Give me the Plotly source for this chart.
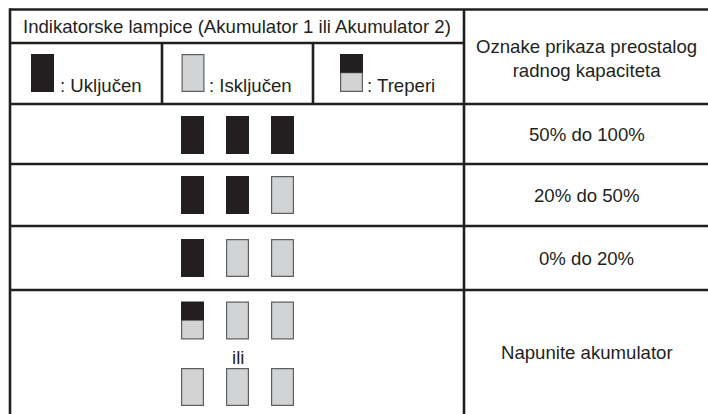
import plotly.graph_objects as go

# ---- content ----
header_title = "Indikatorske lampice (Akumulator 1 ili Akumulator 2)"
legend_labels = [": Uključen", ": Isključen", ": Treperi"]
legend_states = ["on", "off", "blink"]
capacity_header = "Oznake prikaza preostalog<br>radnog kapaciteta"
capacity_labels = ["50% do 100%", "20% do 50%", "0% do 20%", "Napunite akumulator"]
lamp_rows = [
    [["on", "on", "on"]],
    [["on", "on", "off"]],
    [["on", "off", "off"]],
    [["blink", "off", "off"], ["off", "off", "off"]],
]
alt_word = "ili"

# ---- geometry / style ----
W, H = 708, 414
X_L, X_DIV, X_R = 10, 464, 730
Y_TOP, Y_H1, Y_H2 = 9.5, 43, 104
ROW_BOUNDS = [104, 164, 226, 290, 430]
LEG_DIVS = [162, 313]
LEG_ICON_X = [31, 181.5, 340]
LEG_TEXT_X = [58, 207, 365]
LAMP_W, LAMP_H = 23, 38
LAMP_CX = [192.5, 237.5, 282.5]
ROW_LAMP_CY = [[135], [195], [258], [320.5, 387]]
ALT_Y = 357
LINE_C = "#231f20"
LINE_W = 2.6
DARK = "#231f20"
GREY = "#d1d3d4"
GREY_LINE = "#5f6062"
FONT = "Liberation Sans, Arial, sans-serif"
FS = 18.6

shapes = []


def line(x0, y0, x1, y1):
    shapes.append(dict(type="line", xref="x", yref="y", x0=x0, y0=y0, x1=x1, y1=y1,
                       line=dict(color=LINE_C, width=LINE_W), layer="above"))


def lamp(x0, y0, state):
    x1, y1 = x0 + LAMP_W, y0 + LAMP_H
    if state == "on":
        shapes.append(dict(type="rect", xref="x", yref="y", x0=x0, y0=y0, x1=x1, y1=y1,
                           fillcolor=DARK, line=dict(width=0)))
    elif state == "off":
        shapes.append(dict(type="rect", xref="x", yref="y", x0=x0 + 0.6, y0=y0 + 0.6,
                           x1=x1 - 0.6, y1=y1 - 0.6,
                           fillcolor=GREY, line=dict(color=GREY_LINE, width=1.2)))
    else:  # blink
        ym = y0 + LAMP_H * 0.49
        shapes.append(dict(type="rect", xref="x", yref="y", x0=x0 + 0.6, y0=ym,
                           x1=x1 - 0.6, y1=y1 - 0.6,
                           fillcolor=GREY, line=dict(color=GREY_LINE, width=1.2)))
        shapes.append(dict(type="rect", xref="x", yref="y", x0=x0, y0=y0, x1=x1, y1=ym,
                           fillcolor=DARK, line=dict(width=0)))


# table grid
line(X_L, Y_TOP, X_R, Y_TOP)
line(X_L, Y_TOP - 1.2, X_L, H + 20)
line(X_DIV, Y_TOP, X_DIV, H + 20)
line(X_L, Y_H1, X_DIV, Y_H1)
for xd in LEG_DIVS:
    line(xd, Y_H1, xd, Y_H2)
for yb in ROW_BOUNDS[:-1]:
    line(X_L, yb, X_R, yb)

annotations = []


def text(x, y, s, xanchor="center", size=FS):
    annotations.append(dict(x=x, y=y, xref="x", yref="y", text=s, showarrow=False,
                            xanchor=xanchor, yanchor="middle",
                            font=dict(family=FONT, size=size, color=DARK)))


# header
text((X_L + X_DIV) / 2, 26.5, header_title)
text((X_DIV + W) / 2 + 0.5, 58, capacity_header)

# legend row
for ix, st, lab, tx in zip(LEG_ICON_X, legend_states, legend_labels, LEG_TEXT_X):
    lamp(ix, 54, st)
    annotations.append(dict(x=tx, y=97.5, xref="x", yref="y", text=lab, showarrow=False,
                            xanchor="left", yanchor="bottom",
                            font=dict(family=FONT, size=FS, color=DARK)))

# body rows
for r, (states_list, cys) in enumerate(zip(lamp_rows, ROW_LAMP_CY)):
    for states, cy in zip(states_list, cys):
        for cx, st in zip(LAMP_CX, states):
            lamp(cx - LAMP_W / 2, cy - LAMP_H / 2, st)
    ymid = (ROW_BOUNDS[r] + min(ROW_BOUNDS[r + 1], H)) / 2
    text((X_DIV + W) / 2 + 0.5, ymid, capacity_labels[r])

text(LAMP_CX[1], ALT_Y, alt_word)

fig = go.Figure()
fig.add_trace(go.Scatter(x=[0], y=[0], mode="markers", marker=dict(opacity=0),
                         hoverinfo="skip", showlegend=False))
fig.update_layout(
    width=W, height=H,
    margin=dict(l=0, r=0, t=0, b=0),
    paper_bgcolor="white", plot_bgcolor="white",
    xaxis=dict(range=[0, W], visible=False, fixedrange=True),
    yaxis=dict(range=[H, 0], visible=False, fixedrange=True),
    shapes=shapes, annotations=annotations, showlegend=False,
)
fig.write_html("out.html", config={"displayModeBar": False},
               post_script="document.body.style.margin='0';document.body.style.overflow='hidden';")
